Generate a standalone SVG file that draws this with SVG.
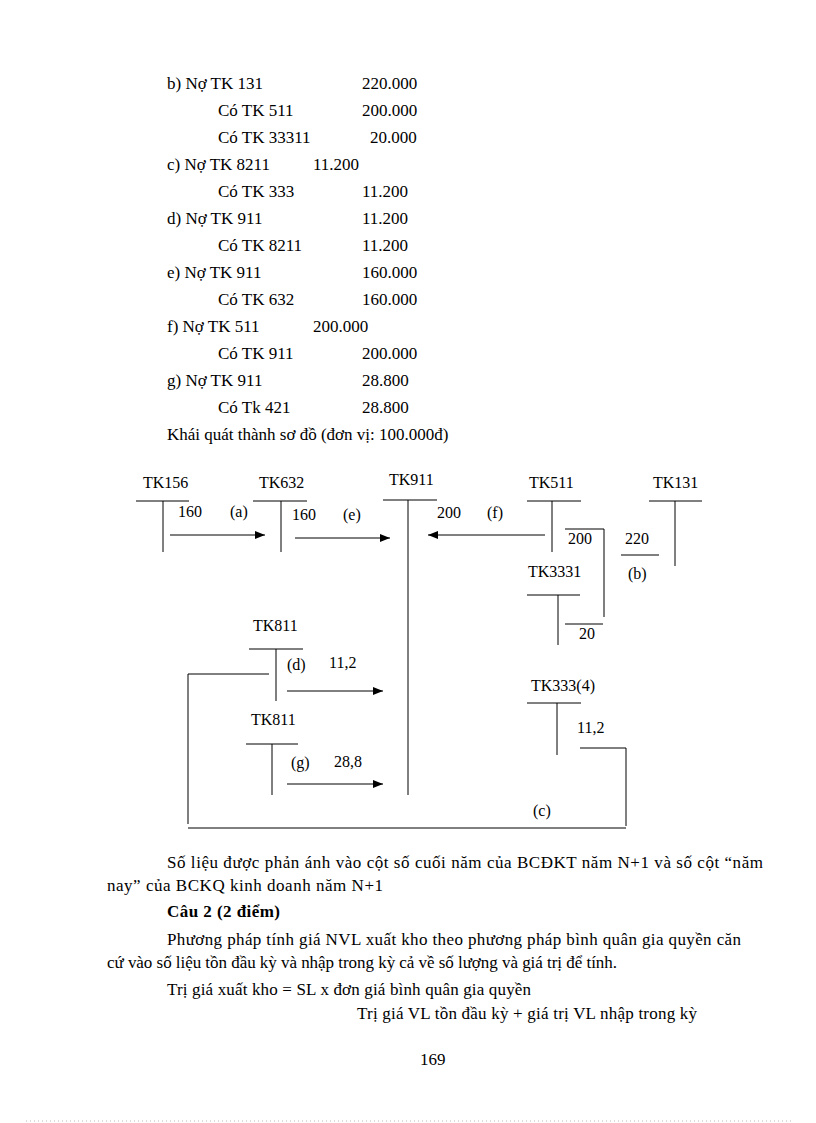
<svg xmlns="http://www.w3.org/2000/svg" width="816" height="1123" viewBox="0 0 816 1123">
<defs>
<marker id="ah" viewBox="0 0 10 8" refX="10" refY="4" markerWidth="10" markerHeight="8" markerUnits="userSpaceOnUse" orient="auto">
<path d="M0,0 L10,4 L0,8 Z" fill="#000"/>
</marker>
</defs>
<style>
text{font-family:"Liberation Serif","Times New Roman",serif;font-size:16px;fill:#000}
.t{font-size:17px}
.b{font-weight:bold}
line,polyline{stroke:#000;stroke-width:1;fill:none}
.arr{marker-end:url(#ah)}
.dot{stroke:#bbb;stroke-dasharray:1 3}
</style>
<rect width="816" height="1123" fill="#fff"/>
<g id="entries" class="t">
<text class="t" x="167" y="89">b) Nợ TK 131</text><text class="t" x="362" y="89">220.000</text>
<text class="t" x="218" y="116">Có TK 511</text><text class="t" x="362" y="116">200.000</text>
<text class="t" x="218" y="143">Có TK 33311</text><text class="t" x="370" y="143">20.000</text>
<text class="t" x="167" y="170">c) Nợ TK 8211</text><text class="t" x="313" y="170">11.200</text>
<text class="t" x="218" y="197">Có TK 333</text><text class="t" x="362" y="197">11.200</text>
<text class="t" x="167" y="224">d) Nợ TK 911</text><text class="t" x="362" y="224">11.200</text>
<text class="t" x="218" y="251">Có TK 8211</text><text class="t" x="362" y="251">11.200</text>
<text class="t" x="167" y="278">e) Nợ TK 911</text><text class="t" x="362" y="278">160.000</text>
<text class="t" x="218" y="305">Có TK 632</text><text class="t" x="362" y="305">160.000</text>
<text class="t" x="167" y="332">f) Nợ TK 511</text><text class="t" x="313" y="332">200.000</text>
<text class="t" x="218" y="359">Có TK 911</text><text class="t" x="362" y="359">200.000</text>
<text class="t" x="167" y="386">g) Nợ TK 911</text><text class="t" x="362" y="386">28.800</text>
<text class="t" x="218" y="413">Có Tk 421</text><text class="t" x="362" y="413">28.800</text>
<text class="t" x="167" y="440">Khái quát thành sơ đồ (đơn vị: 100.000đ)</text>
</g>
<g id="tk156"><text x="143" y="488">TK156</text><line x1="136" y1="501" x2="189" y2="501"/><line x1="163" y1="501" x2="163" y2="552"/></g>
<g id="tk632"><text x="259" y="488">TK632</text><line x1="253" y1="501" x2="307" y2="501"/><line x1="281" y1="501" x2="281" y2="552"/></g>
<g id="tk911"><text x="389" y="485">TK911</text><line x1="383" y1="500" x2="437" y2="500"/><line x1="408" y1="500" x2="408" y2="795"/></g>
<g id="tk511"><text x="529" y="488">TK511</text><line x1="527" y1="501" x2="581" y2="501"/><line x1="552" y1="501" x2="552" y2="552"/></g>
<g id="tk131"><text x="653" y="488">TK131</text><line x1="649" y1="501" x2="702" y2="501"/><line x1="675" y1="501" x2="675" y2="566"/></g>
<g id="tk3331"><text x="528" y="577">TK3331</text><line x1="527" y1="595" x2="580" y2="595"/><line x1="558" y1="595" x2="558" y2="645"/></g>
<g id="tk811a"><text x="253" y="631">TK811</text><line x1="249" y1="649" x2="303" y2="649"/><line x1="276" y1="649" x2="276" y2="701"/></g>
<g id="tk811b"><text x="251" y="725">TK811</text><line x1="246" y1="744" x2="298" y2="744"/><line x1="272" y1="744" x2="272" y2="795"/></g>
<g id="tk3334"><text x="531" y="691">TK333(4)</text><line x1="527" y1="703" x2="581" y2="703"/><line x1="557" y1="703" x2="557" y2="755"/></g>
<g id="connectors">
<line class="arr" x1="170" y1="535" x2="265" y2="535"/>
<line class="arr" x1="295" y1="538" x2="390" y2="538"/>
<line class="arr" x1="545" y1="535" x2="428" y2="535"/>
<line class="arr" x1="287" y1="691" x2="383" y2="691"/>
<line class="arr" x1="287" y1="784" x2="383" y2="784"/>
<polyline points="565,529 604,529 604,617"/>
<line x1="565" y1="624" x2="603" y2="624"/>
<line x1="621" y1="555" x2="659" y2="555"/>
<polyline points="269,674 188,674 188,824"/>
<line x1="188" y1="828" x2="626" y2="828"/>
<polyline points="580,748 626,748 626,826"/>
<text x="178" y="517">160</text><text x="230" y="517">(a)</text>
<text x="292" y="520">160</text><text x="343" y="520">(e)</text>
<text x="437" y="518">200</text><text x="487" y="518">(f)</text>
<text x="568" y="544">200</text><text x="579" y="639">20</text>
<text x="625" y="544">220</text><text x="628" y="579">(b)</text>
<text x="287" y="670">(d)</text><text x="329" y="668">11,2</text>
<text x="291" y="768">(g)</text><text x="334" y="767">28,8</text>
<text x="577" y="733">11,2</text>
<text x="533" y="816">(c)</text>
</g>
<g id="body">
<text class="t" x="167" y="868" textLength="596" lengthAdjust="spacing">Số liệu được phản ánh vào cột số cuối năm của BCĐKT năm N+1 và số cột “năm</text>
<text class="t" x="107" y="891" textLength="276" lengthAdjust="spacing">nay”  của BCKQ kinh doanh năm N+1</text>
<text class="t b" x="167" y="917" textLength="113" lengthAdjust="spacing">Câu 2 (2 điểm)</text>
<text class="t" x="167" y="945" textLength="574" lengthAdjust="spacing">Phương pháp tính giá NVL xuất kho theo phương pháp bình quân gia quyền căn</text>
<text class="t" x="107" y="968" textLength="510" lengthAdjust="spacing">cứ vào  số liệu tồn đầu kỳ và nhập trong kỳ cả về số lượng và giá trị để tính.</text>
<text class="t" x="167" y="995" textLength="364" lengthAdjust="spacing">Trị giá xuất kho = SL x đơn giá bình quân gia quyền</text>
<text class="t" x="357" y="1019" textLength="340" lengthAdjust="spacing">Trị giá VL tồn đầu kỳ + giá trị VL nhập trong kỳ</text>
<text class="t" x="420" y="1065">169</text>
</g>
<line class="dot" x1="26" y1="1121" x2="791" y2="1121"/>
</svg>
